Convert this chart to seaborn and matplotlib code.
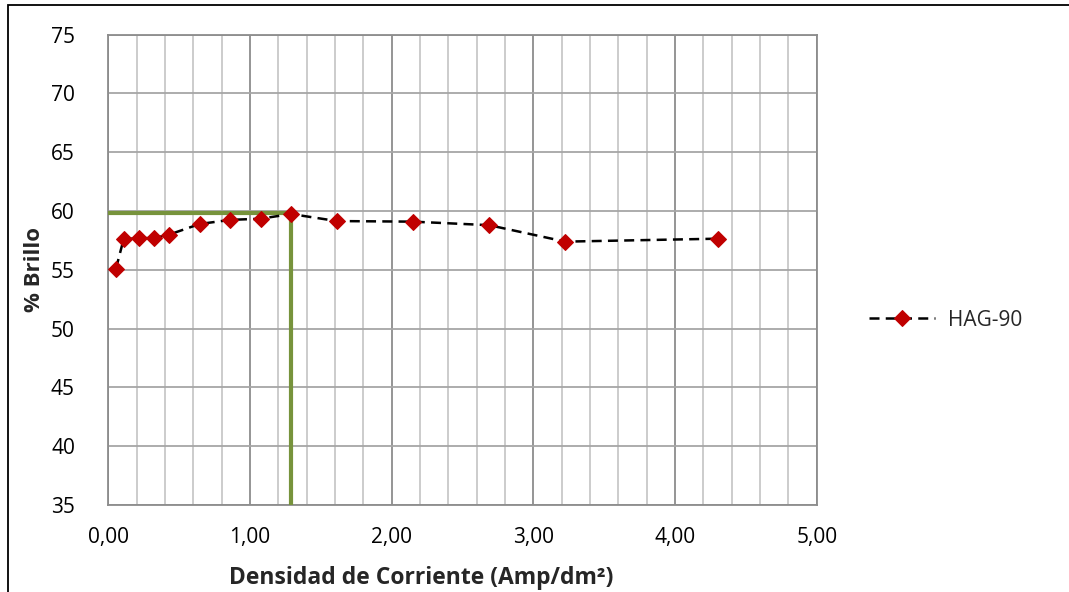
import matplotlib
matplotlib.use("Agg")
import matplotlib.pyplot as plt
import seaborn as sns
import pandas as pd
from matplotlib.patches import Rectangle
from matplotlib.ticker import MultipleLocator, FuncFormatter

# Data
densidad = [0.054, 0.108, 0.215, 0.323, 0.43, 0.645, 0.86, 1.075, 1.29, 1.613, 2.15, 2.688, 3.225, 4.30]
brillo = [55.1, 57.6, 57.7, 57.7, 58.0, 58.9, 59.25, 59.35, 59.75, 59.15, 59.1, 58.8, 57.4, 57.65]
serie = "HAG-90"
opt_x = 1.29
opt_y = 59.8

sns.set_theme(style="white")
plt.rcParams['font.family'] = ['Open Sans', 'DejaVu Sans']

fig = plt.figure(figsize=(10.69, 5.92), dpi=100)
ax = fig.add_axes([108.3/1069, 1-505/592, (816.7-108.3)/1069, (505-34.7)/592])

df = pd.DataFrame({"x": densidad, "y": brillo, "s": serie})

# optimum guide lines
ax.plot([0, opt_x], [opt_y, opt_y], color="#77933C", lw=3, zorder=3, solid_capstyle="butt")
ax.plot([opt_x, opt_x], [35, opt_y], color="#77933C", lw=3, zorder=3, solid_capstyle="butt")

sns.lineplot(data=df, x="x", y="y", ax=ax, sort=False, color="black", lw=1.8,
             linestyle=(0, (4, 2.5)), marker="D", markersize=8,
             markerfacecolor="#C00000", markeredgecolor="#C00000",
             label=serie, zorder=4)

ax.set_xlim(0, 5)
ax.set_ylim(35, 75)
ax.xaxis.set_major_locator(MultipleLocator(1))
ax.xaxis.set_minor_locator(MultipleLocator(0.2))
ax.yaxis.set_major_locator(MultipleLocator(5))
ax.xaxis.set_major_formatter(FuncFormatter(lambda v, p: f"{v:.2f}".replace(".", ",")))
ax.yaxis.set_major_formatter(FuncFormatter(lambda v, p: f"{v:.0f}"))

ax.grid(which="minor", axis="x", color="#C8C8C8", lw=1.3)
ax.grid(which="major", axis="x", color="#8C8C8C", lw=1.3)
ax.grid(which="major", axis="y", color="#A6A6A6", lw=1.3)
ax.set_axisbelow(True)
for sp in ax.spines.values():
    sp.set_color("#8C8C8C")
    sp.set_linewidth(1.3)

ax.tick_params(axis="both", which="both", length=0, labelsize=15, colors="black")
ax.tick_params(axis="x", pad=16)
ax.tick_params(axis="y", pad=24)

ax.set_xlabel("Densidad de Corriente (Amp/dm²)", fontsize=16.5, fontweight="bold", va="center")
ax.xaxis.set_label_coords((421 - 108.3) / (816.7 - 108.3), -(578 - 505) / (505 - 34.7))
ax.set_ylabel("% Brillo", fontsize=16, fontweight="bold", va="center")
ax.yaxis.set_label_coords(-(108.3 - 35) / (816.7 - 108.3), 0.5)

leg = ax.legend(loc="center left", bbox_to_anchor=(850/1069, 1-320/592),
                bbox_transform=fig.transFigure, frameon=False, fontsize=15,
                handlelength=3.2, handletextpad=0.6)

# outer chart frame (partially visible)
fig.patches.append(Rectangle((8/1069, -0.2), 1.5, 1.2 - 5/592, transform=fig.transFigure,
                             fill=False, edgecolor="black", lw=1.3))

fig.savefig("out.png", dpi=100)
